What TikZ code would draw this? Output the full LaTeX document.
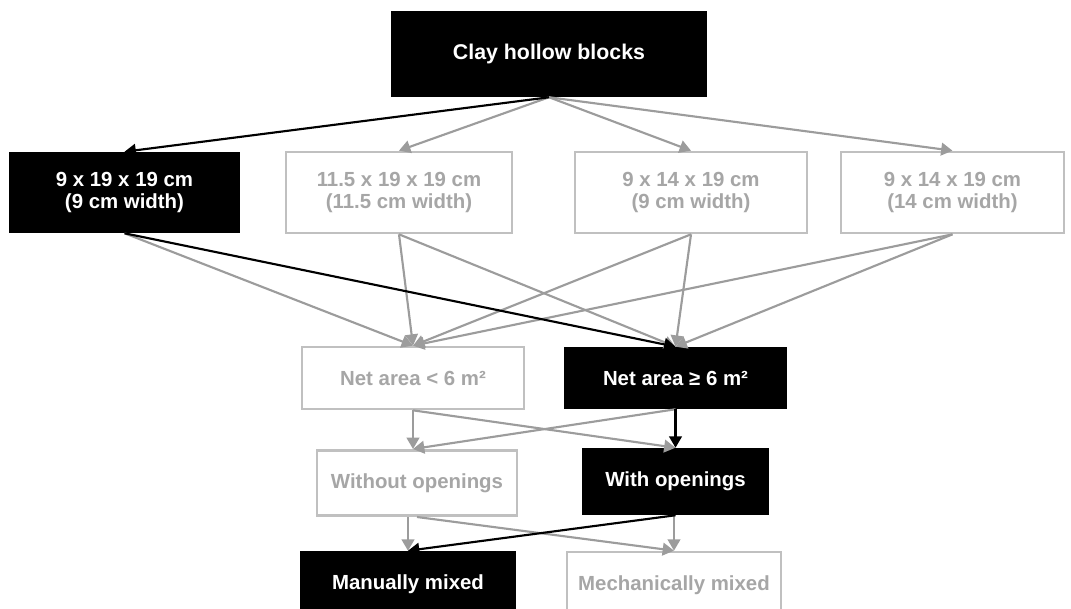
\documentclass[tikz,border=0pt]{standalone}
\usepackage{fontspec}
\setmainfont{Liberation Sans}
\usetikzlibrary{arrows.meta}

\definecolor{boxgrey}{HTML}{C0C0C0}
\definecolor{txtgrey}{HTML}{A6A6A6}
\definecolor{argrey}{HTML}{9C9C9C}

\begin{document}
\begin{tikzpicture}[x=0.75pt, y=-0.75pt,
  every node/.style={font=\bfseries\fontsize{15.3}{16.8}\selectfont, align=center, inner sep=0pt},
  blk/.style={rectangle, fill=black, text=white},
  gry/.style={rectangle, draw=boxgrey, line width=2pt, fill=white, text=txtgrey},
  ar/.style={-{Triangle[length=8.5pt,width=9.5pt]}, line width=1.6pt},
  gar/.style={ar, draw=argrey},
  bar/.style={ar, draw=black}
]
  \useasboundingbox (0,0) rectangle (1071,609);
  \clip (0,0) rectangle (1071,609);

  % top
  \node[blk, minimum width=237pt, minimum height=64.5pt, font=\bfseries\fontsize{16}{18}\selectfont] (clay) at (549,54) {Clay hollow blocks};

  % block sizes
  \node[blk, minimum width=173.25pt, minimum height=60.75pt] (s9) at (124.5,192.5) {9 x 19 x 19 cm\\(9 cm width)};
  \node[gry, minimum width=169.5pt, minimum height=60.75pt] (s11) at (399,192.5) {11.5 x 19 x 19 cm\\(11.5 cm width)};
  \node[gry, minimum width=174pt, minimum height=60.75pt] (s14a) at (691,192.5) {9 x 14 x 19 cm\\(9 cm width)};
  \node[gry, minimum width=167.25pt, minimum height=60.75pt] (s14b) at (952.5,192.5) {9 x 14 x 19 cm\\(14 cm width)};

  % net area
  \node[gry, minimum width=166.5pt, minimum height=46.5pt] (small) at (413,378) {Net area < 6 m²};
  \node[blk, minimum width=167.25pt, minimum height=46.5pt] (large) at (675.5,378) {Net area ≥ 6 m²};

  % openings
  \node[gry, minimum width=150pt, minimum height=49pt] (noop) at (417,483) {Without openings};
  \node[blk, minimum width=140.25pt, minimum height=50.25pt] (withop) at (675.5,481.5) {With openings};

  % mortar
  \node[blk, minimum width=162pt, minimum height=50.25pt] (manual) at (408,584.5) {Manually mixed};
  \node[gry, minimum width=160.5pt, minimum height=50.25pt] (mech) at (674,585.5) {Mechanically mixed};

  % entry points of the lower boxes
  \coordinate (noopin) at (small.south |- noop.north);
  \coordinate (within) at (large.south |- withop.north);

  % grey connectors
  \draw[gar] (clay.south) -- (s11.north);
  \draw[gar] (clay.south) -- (s14a.north);
  \draw[gar] (clay.south) -- (s14b.north);
  \draw[gar] (s9.south) -- (small.north);
  \draw[gar] (s11.south) -- (small.north);
  \draw[gar] (s11.south) -- (large.north);
  \draw[gar] (s14a.south) -- (small.north);
  \draw[gar] (s14a.south) -- (large.north);
  \draw[gar] (s14b.south) -- (small.north);
  \draw[gar] (s14b.south) -- (large.north);
  \draw[gar] (small.south) -- (noopin);
  \draw[gar] (small.south) -- (within);
  \draw[gar] (large.south) -- (noopin);
  \draw[gar] (noop.south -| manual.north) -- (manual.north);
  \draw[gar] (noop.south) -- (mech.north);
  \draw[gar] (withop.south -| mech.north) -- (mech.north);

  % black path
  \draw[bar] (clay.south) -- (s9.north);
  \draw[bar] (s9.south) -- (large.north);
  \draw[bar] (large.south) -- (within);
  \draw[bar] (withop.south) -- (manual.north);
\end{tikzpicture}
\end{document}
